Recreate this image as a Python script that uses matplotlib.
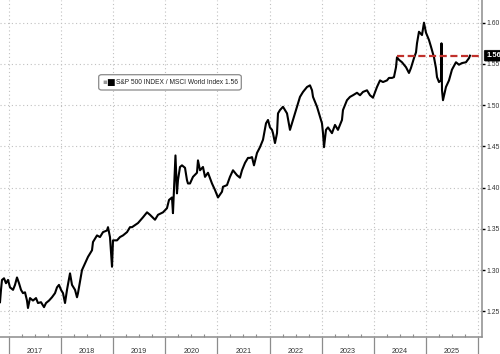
import matplotlib
matplotlib.use("Agg")
import matplotlib.pyplot as plt
import matplotlib.transforms as mtransforms
from matplotlib.patches import FancyBboxPatch

# ---- data (decimal year, ratio) ----
t = [2016.827, 2016.846, 2016.865, 2016.904, 2016.942, 2016.981, 2017.019, 2017.077,
     2017.115, 2017.153, 2017.192, 2017.230, 2017.268, 2017.307, 2017.345, 2017.364,
     2017.403, 2017.460, 2017.518, 2017.556, 2017.614, 2017.672, 2017.710, 2017.768,
     2017.825, 2017.883, 2017.921, 2017.959, 2017.998, 2018.036, 2018.075, 2018.113,
     2018.171, 2018.209, 2018.267, 2018.305, 2018.324, 2018.401, 2018.458, 2018.516,
     2018.593, 2018.612, 2018.689, 2018.746, 2018.804, 2018.881, 2018.900, 2018.938,
     2018.977, 2018.996, 2019.073, 2019.130, 2019.188, 2019.265, 2019.322, 2019.361,
     2019.476, 2019.572, 2019.649, 2019.706, 2019.802, 2019.860, 2019.956, 2020.032,
     2020.071, 2020.128, 2020.147, 2020.167, 2020.195, 2020.224, 2020.243, 2020.282,
     2020.320, 2020.378, 2020.416, 2020.435, 2020.474, 2020.531, 2020.608, 2020.627,
     2020.666, 2020.723, 2020.762, 2020.819, 2020.896, 2020.954, 2021.011, 2021.088,
     2021.107, 2021.184, 2021.241, 2021.299, 2021.376, 2021.433, 2021.472, 2021.530,
     2021.587, 2021.626, 2021.664, 2021.702, 2021.760, 2021.817, 2021.875, 2021.933,
     2021.971, 2022.009, 2022.048, 2022.067, 2022.105, 2022.144, 2022.163, 2022.201,
     2022.259, 2022.336, 2022.393, 2022.451, 2022.528, 2022.585, 2022.643, 2022.720,
     2022.777, 2022.816, 2022.835, 2022.912, 2022.969, 2023.007, 2023.027, 2023.046,
     2023.084, 2023.123, 2023.199, 2023.257, 2023.314, 2023.391, 2023.410, 2023.487,
     2023.545, 2023.602, 2023.679, 2023.737, 2023.794, 2023.871, 2023.929, 2023.986,
     2024.063, 2024.121, 2024.178, 2024.255, 2024.293, 2024.351, 2024.389, 2024.428,
     2024.447, 2024.485, 2024.543, 2024.620, 2024.677, 2024.715, 2024.773, 2024.812,
     2024.831, 2024.869, 2024.927, 2024.965, 2025.003, 2025.061, 2025.099, 2025.157,
     2025.195, 2025.215, 2025.253, 2025.291, 2025.301, 2025.311, 2025.330, 2025.387,
     2025.445, 2025.502, 2025.579, 2025.637, 2025.694, 2025.771, 2025.829, 2025.848]
ratio = [1.261, 1.276, 1.288, 1.290, 1.284, 1.288, 1.279, 1.276,
         1.282, 1.291, 1.284, 1.276, 1.272, 1.273, 1.263, 1.254,
         1.266, 1.263, 1.266, 1.260, 1.261, 1.255, 1.260, 1.263,
         1.267, 1.272, 1.279, 1.282, 1.276, 1.272, 1.260, 1.276,
         1.296, 1.282, 1.276, 1.267, 1.272, 1.300, 1.308, 1.316,
         1.324, 1.334, 1.342, 1.340, 1.346, 1.348, 1.352, 1.340,
         1.304, 1.336, 1.336, 1.340, 1.342, 1.346, 1.352, 1.352,
         1.357, 1.364, 1.370, 1.367, 1.361, 1.367, 1.370, 1.375,
         1.385, 1.388, 1.369, 1.397, 1.439, 1.393, 1.409, 1.425,
         1.427, 1.424, 1.409, 1.405, 1.405, 1.413, 1.418, 1.433,
         1.421, 1.425, 1.413, 1.418, 1.405, 1.397, 1.388, 1.395,
         1.401, 1.403, 1.413, 1.421, 1.415, 1.412, 1.421, 1.430,
         1.436, 1.436, 1.437, 1.427, 1.442, 1.449, 1.458, 1.478,
         1.482, 1.473, 1.470, 1.466, 1.454, 1.466, 1.490, 1.494,
         1.498, 1.490, 1.470, 1.482, 1.498, 1.510, 1.516, 1.522,
         1.524, 1.518, 1.510, 1.498, 1.486, 1.478, 1.466, 1.449,
         1.470, 1.473, 1.466, 1.476, 1.470, 1.482, 1.494, 1.506,
         1.510, 1.512, 1.515, 1.512, 1.516, 1.518, 1.512, 1.509,
         1.522, 1.530, 1.528, 1.530, 1.533, 1.533, 1.534, 1.546,
         1.558, 1.555, 1.552, 1.546, 1.539, 1.545, 1.557, 1.564,
         1.575, 1.589, 1.585, 1.600, 1.588, 1.579, 1.571, 1.558,
         1.545, 1.534, 1.528, 1.530, 1.575, 1.518, 1.506, 1.522,
         1.530, 1.543, 1.552, 1.549, 1.551, 1.552, 1.557, 1.560]
last_value = 1.56
last_label = "1.56"
ref_start = 2024.447
legend_label = "S&P 500 INDEX / MSCI World Index 1.56"
year_labels = [2017, 2018, 2019, 2020, 2021, 2022, 2023, 2024, 2025]
year_bounds = list(range(2017, 2027))
y_ticks = [1.25, 1.30, 1.35, 1.40, 1.45, 1.50, 1.55, 1.60]

plt.rcParams["font.family"] = ["Liberation Sans", "DejaVu Sans"]

fig = plt.figure(figsize=(5.0, 3.54), dpi=100)
ax = fig.add_axes([0.0, 17 / 354, 481.7 / 500, 337 / 354])

xmin, xmax = 2016.827, 2026.073
ymin, ymax = 1.2188, 1.6275
ax.set_xlim(xmin, xmax)
ax.set_ylim(ymin, ymax)

# grid
for yb in y_ticks:
    ax.axhline(yb, color="#c0c0c0", lw=0.8, ls=(0, (1, 2.4)), zorder=0)
for xb in year_bounds:
    ax.axvline(xb, color="#c0c0c0", lw=0.8, ls=(0, (1, 2.4)), zorder=0)

ax.plot(t, ratio, color="black", lw=1.5, zorder=3, solid_joinstyle="round")
ax.plot([ref_start, xmax], [last_value, last_value], color="#c0302b", lw=1.6,
        ls=(0, (3.2, 1.6)), zorder=4, clip_on=False)

# spines
for s in ["left", "top"]:
    ax.spines[s].set_visible(False)
for s in ["right", "bottom"]:
    ax.spines[s].set_color("#8c8c8c")
    ax.spines[s].set_linewidth(1.1)

# y axis on right
ax.yaxis.tick_right()
ax.set_yticks(y_ticks)
ax.set_yticklabels([f"{v:.2f}" for v in y_ticks])
ax.tick_params(axis="y", which="major", direction="out", length=2.5, width=1.0,
               color="black", labelsize=4.9, labelcolor="#333333", pad=1.0)

# x axis: year boundaries as long outward ticks, quarter minor ticks inward
ax.set_xticks(year_bounds)
ax.set_xticklabels([""] * len(year_bounds))
quarters = [y + q for y in range(2017, 2026) for q in (0.25, 0.5, 0.75)]
ax.set_xticks(quarters, minor=True)
ax.tick_params(axis="x", which="major", direction="out", length=13, width=0.9,
               color="#8c8c8c")
ax.tick_params(axis="x", which="minor", direction="in", length=2.5, width=0.8,
               color="#8c8c8c")
trans = mtransforms.blended_transform_factory(ax.transData, ax.transAxes)
for yr in year_labels:
    ax.text(yr + 0.5, -0.044, str(yr), transform=trans, ha="center", va="center",
            fontsize=5.2, color="#333333", clip_on=False)

# last-value box
ax.annotate(last_label, xy=(1.0, last_value), xycoords=("axes fraction", "data"),
            xytext=(3.2, 0), textcoords="offset points", ha="left", va="center",
            fontsize=5.4, color="white", fontweight="bold",
            bbox=dict(boxstyle="round,pad=0.25,rounding_size=0.15", fc="black",
                      ec="black", lw=0.5), annotation_clip=False, zorder=6)

# legend box
lx, ly = 98.7 / 500, 1 - 82.3 / 354
box = FancyBboxPatch((lx, 1 - 90 / 354), (241.3 - 98.7) / 500, 15.3 / 354,
                     boxstyle="round,pad=0,rounding_size=0.006",
                     transform=fig.transFigure, fc="white", ec="#8a8a8a",
                     lw=0.9, zorder=2)
fig.patches.append(box)
fig.text(lx + 0.008, ly, "\u25aa", color="#999999", fontsize=5, va="center",
         ha="left", family="DejaVu Sans", zorder=3)
fig.text(lx + 0.015, ly, "\u25a0", color="black", fontsize=6.5, va="center",
         ha="left", family="DejaVu Sans", zorder=3)
fig.text(lx + 0.034, ly, legend_label, fontsize=4.75, color="#222222",
         va="center", ha="left", zorder=3)

fig.savefig("out.png", dpi=100)
